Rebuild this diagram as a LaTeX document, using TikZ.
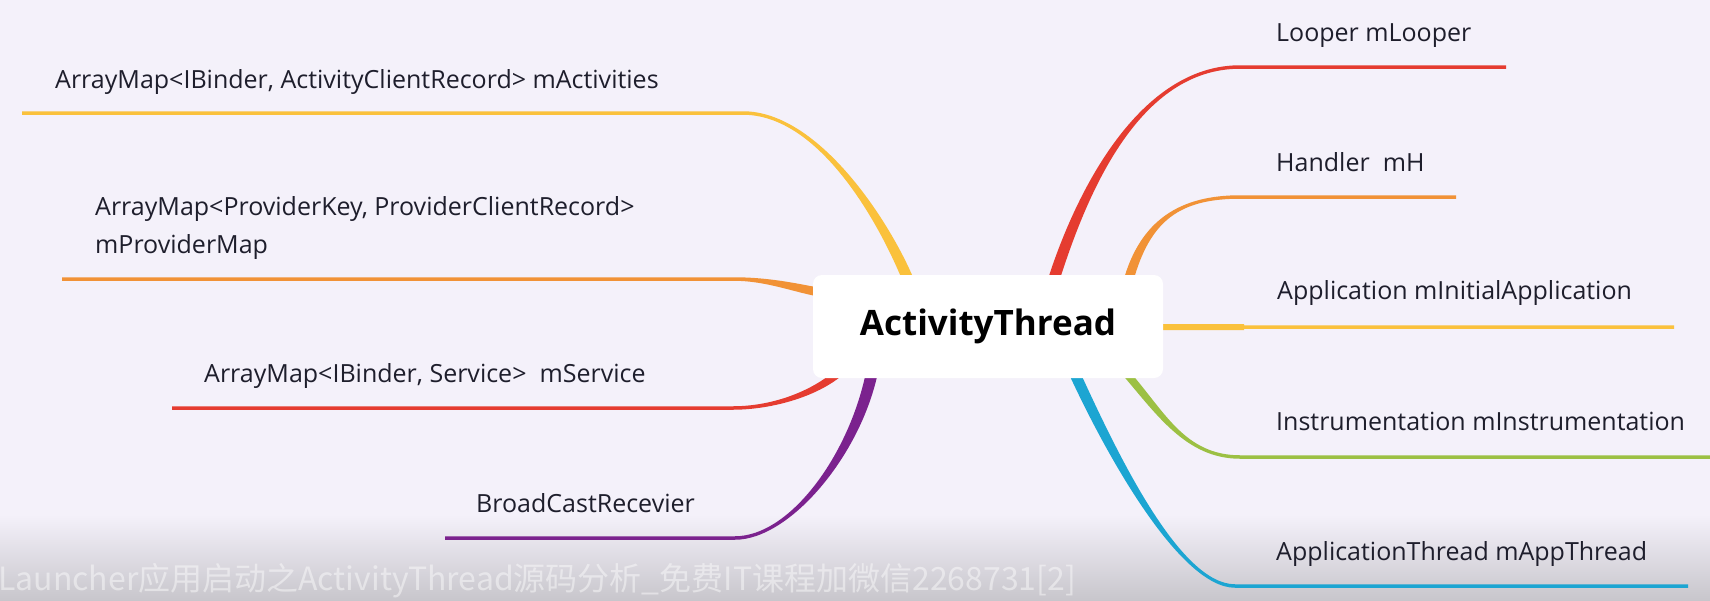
\documentclass[tikz,border=0pt]{standalone}
\usepackage{fontspec}
\setmainfont{Open Sans}
\newfontfamily\cjkfont{Noto Sans CJK SC}
\definecolor{pagebg}{HTML}{F4F1FA}
\definecolor{bandbg}{HTML}{C8C6CC}
\definecolor{lbltext}{HTML}{1E1E2C}
\definecolor{bryellow}{HTML}{FAC13C}
\definecolor{brorange}{HTML}{F19236}
\definecolor{brred}{HTML}{E53C30}
\definecolor{brpurple}{HTML}{7B228E}
\definecolor{brblue}{HTML}{1CA5D2}
\definecolor{brgreen}{HTML}{9CC043}

\begin{document}
\begin{tikzpicture}[x=1pt, y=-1pt,
  root/.style={rectangle, rounded corners=9pt, fill=white, minimum width=350pt,
               minimum height=103pt, font=\fontsize{35}{38}\selectfont\bfseries, text=black},
  leaf/.style={anchor=base west, inner sep=0pt, align=left,
               font=\fontsize{25}{38}\selectfont, text=lbltext},
  wmark/.style={anchor=base west, inner sep=0pt, text=white, text opacity=0.45,
                font=\cjkfont\fontsize{32}{34}\selectfont},
]
% page and the dark band at the bottom
\fill[pagebg] (0,0) rectangle (1710,600);
\shade[top color=pagebg, bottom color=bandbg] (0,515) rectangle (1710,600);
\useasboundingbox (0,0) rectangle (1710,600);

% left: yellow, mActivities
\coordinate (act-s) at (909,282);
\coordinate (act-b) at (743,113);
\coordinate (act-e) at (22,113);
\fill[bryellow] ([xshift=-6]act-s) .. controls (880,225) and (820,114.75) .. ([yshift=-1.75]act-b)
  -- ([yshift=-1.75]act-e) -- ([yshift=1.75]act-e) -- ([yshift=1.75]act-b)
  .. controls (820,111.25) and (892,225) .. ([xshift=6]act-s) -- cycle;
% left: orange, mProviderMap
\coordinate (prv-s) at (818,292);
\coordinate (prv-b) at (733,279);
\coordinate (prv-e) at (62,279);
\fill[brorange] ([yshift=4.5]prv-s) .. controls (790,282) and (765,277.25) .. ([yshift=1.75]prv-b)
  -- ([yshift=1.75]prv-e) -- ([yshift=-1.75]prv-e) -- ([yshift=-1.75]prv-b)
  .. controls (765,280.75) and (790,291) .. ([yshift=-4.5]prv-s) -- cycle;
% left: red, mService
\coordinate (svc-s) at (842,370);
\coordinate (svc-b) at (733,408);
\coordinate (svc-e) at (172,408);
\fill[brred] ([xshift=-6]svc-s) .. controls (809,393) and (770,406.25) .. ([yshift=1.75]svc-b)
  -- ([yshift=1.75]svc-e) -- ([yshift=-1.75]svc-e) -- ([yshift=-1.75]svc-b)
  .. controls (770,409.75) and (821,397) .. ([xshift=6]svc-s) -- cycle;
% left: purple, receiver
\coordinate (rcv-s) at (872,372);
\coordinate (rcv-b) at (735,538);
\coordinate (rcv-e) at (445,538);
\fill[brpurple] ([xshift=-6]rcv-s) .. controls (849,455) and (790,536.25) .. ([yshift=1.75]rcv-b)
  -- ([yshift=1.75]rcv-e) -- ([yshift=-1.75]rcv-e) -- ([yshift=-1.75]rcv-b)
  .. controls (790,539.75) and (861,455) .. ([xshift=6]rcv-s) -- cycle;

% right: red, mLooper
\coordinate (lpr-s) at (1053,282);
\coordinate (lpr-b) at (1240,67);
\coordinate (lpr-e) at (1506,67);
\fill[brred] ([xshift=-6]lpr-s) .. controls (1076,190) and (1140,65.25) .. ([yshift=1.75]lpr-b)
  -- ([yshift=1.75]lpr-e) -- ([yshift=-1.75]lpr-e) -- ([yshift=-1.75]lpr-b)
  .. controls (1140,68.75) and (1088,190) .. ([xshift=6]lpr-s) -- cycle;
% right: orange, mH
\coordinate (hdl-s) at (1128,282);
\coordinate (hdl-b) at (1240,197);
\coordinate (hdl-e) at (1456,197);
\fill[brorange] ([xshift=-5]hdl-s) .. controls (1140,220) and (1180,195.25) .. ([yshift=1.75]hdl-b)
  -- ([yshift=1.75]hdl-e) -- ([yshift=-1.75]hdl-e) -- ([yshift=-1.75]hdl-b)
  .. controls (1180,198.75) and (1150,220) .. ([xshift=5]hdl-s) -- cycle;
% right: yellow, mInitialApplication
\coordinate (app-s) at (1155,327);
\coordinate (app-b) at (1244,327);
\coordinate (app-e) at (1674,327);
\fill[bryellow] ([yshift=3]app-s) -- ([yshift=3]app-b) -- ([yshift=1.75]app-b) -- ([yshift=1.75]app-e)
  -- ([yshift=-1.75]app-e) -- ([yshift=-1.75]app-b) -- ([yshift=-3]app-b) -- ([yshift=-3]app-s) -- cycle;
% right: green, mInstrumentation
\coordinate (ins-s) at (1125,372);
\coordinate (ins-b) at (1240,457);
\coordinate (ins-e) at (1712,457);
\fill[brgreen] ([xshift=-5]ins-s) .. controls (1155,412) and (1185,458.75) .. ([yshift=-1.75]ins-b)
  -- ([yshift=-1.75]ins-e) -- ([yshift=1.75]ins-e) -- ([yshift=1.75]ins-b)
  .. controls (1185,455.25) and (1165,412) .. ([xshift=5]ins-s) -- cycle;
% right: blue, mAppThread
\coordinate (thr-s) at (1074,372);
\coordinate (thr-b) at (1235,586);
\coordinate (thr-e) at (1688,586);
\fill[brblue] ([xshift=-6]thr-s) .. controls (1106,455) and (1180,587.75) .. ([yshift=-1.75]thr-b)
  -- ([yshift=-1.75]thr-e) -- ([yshift=1.75]thr-e) -- ([yshift=1.75]thr-b)
  .. controls (1180,584.25) and (1118,455) .. ([xshift=6]thr-s) -- cycle;

% centre topic
\node[root] (thread) at (988,326.5) {ActivityThread};

% field labels (base of the last line)
\node[leaf] (activities) at (55,88) {ArrayMap<IBinder, ActivityClientRecord> mActivities};
\node[leaf] (providers) at (95,253) {ArrayMap<ProviderKey, ProviderClientRecord>\\mProviderMap};
\node[leaf] (services) at (204,382) {ArrayMap<IBinder, Service>\ \ mService};
\node[leaf] (receiver) at (476,512) {BroadCastRecevier};
\node[leaf] (looper) at (1276,41) {Looper mLooper};
\node[leaf] (handler) at (1276,171) {Handler\ \ mH};
\node[leaf] (initapp) at (1277,299) {Application mInitialApplication};
\node[leaf] (instr) at (1276,430) {Instrumentation mInstrumentation};
\node[leaf] (appthread) at (1276,560) {ApplicationThread mAppThread};

% video caption
\node[wmark] (caption) at (-2,590) {Launcher应用启动之ActivityThread源码分析\_免费IT课程加微信2268731[2]};
\end{tikzpicture}
\end{document}
